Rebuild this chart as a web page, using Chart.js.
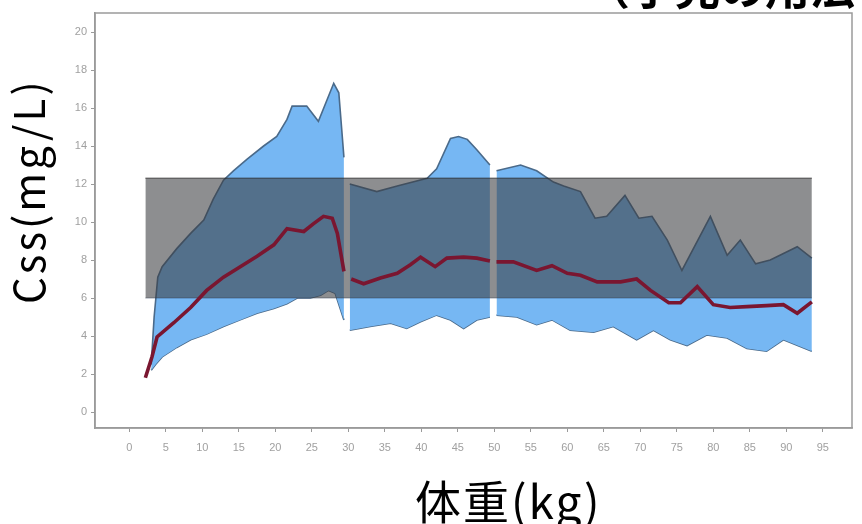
<!DOCTYPE html>
<html>
<head>
<meta charset="utf-8">
<script src="https://cdn.jsdelivr.net/npm/chart.js@4/dist/chart.umd.min.js"></script>
<style>
  html, body { margin: 0; padding: 0; background: #ffffff; }
  #wrap { width: 862px; height: 524px; position: relative; }
</style>
</head>
<body>
<div id="wrap"><canvas id="c" width="862" height="524"></canvas></div>
<script>
// Tick labels
const xTicks = [0, 5, 10, 15, 20, 25, 30, 35, 40, 45, 50, 55, 60, 65, 70, 75, 80, 85, 90, 95];
const yTicks = [0, 2, 4, 6, 8, 10, 12, 14, 16, 18, 20];

// Weight band 1: upper / lower prediction limits and median
const up1X = [3.0, 3.4, 3.9, 4.5, 6.5, 8.4, 10.2, 11.5, 12.9, 14.3, 16.1, 18.4, 20.2, 21.6, 22.3, 24.3, 25.9, 28.0, 28.7, 29.4];
const up1Y = [2.5, 5.0, 7.1, 7.65, 8.6, 9.4, 10.1, 11.2, 12.2, 12.7, 13.3, 14.0, 14.5, 15.4, 16.1, 16.1, 15.3, 17.3, 16.8, 13.4];
const lo1X = [3.0, 3.6, 4.5, 6.5, 8.4, 10.6, 12.9, 15.2, 17.5, 19.8, 21.6, 23.0, 24.8, 26.2, 27.3, 28.2, 29.4];
const lo1Y = [2.2, 2.5, 2.9, 3.4, 3.8, 4.1, 4.5, 4.85, 5.2, 5.45, 5.7, 6.0, 6.0, 6.15, 6.4, 6.25, 4.85];
const med1X = [2.2, 3.1, 3.8, 6.1, 8.4, 10.6, 12.9, 15.2, 17.5, 19.8, 21.6, 23.9, 25.2, 26.6, 27.8, 28.5, 29.4];
const med1Y = [1.8, 2.9, 3.95, 4.7, 5.5, 6.4, 7.1, 7.65, 8.2, 8.8, 9.65, 9.5, 9.9, 10.3, 10.2, 9.4, 7.4];

// Weight band 2
const up2X = [30.2, 33.9, 36.7, 40.8, 42.1, 44.0, 45.1, 46.3, 47.6, 49.4];
const up2Y = [12.0, 11.6, 11.9, 12.3, 12.8, 14.4, 14.5, 14.35, 13.8, 13.0];
const lo2X = [30.2, 33.0, 35.8, 38.0, 39.9, 42.1, 44.0, 45.8, 47.6, 49.4];
const lo2Y = [4.3, 4.5, 4.67, 4.4, 4.75, 5.1, 4.84, 4.4, 4.84, 5.0];
const med2X = [30.4, 32.1, 34.4, 36.7, 38.5, 39.9, 41.9, 43.5, 45.8, 47.6, 49.4];
const med2Y = [7.0, 6.75, 7.05, 7.3, 7.75, 8.15, 7.65, 8.1, 8.15, 8.1, 7.95];

// Weight band 3
const up3X = [50.3, 53.6, 55.8, 58.1, 59.5, 61.8, 63.8, 65.4, 67.9, 69.8, 71.6, 73.7, 75.7, 79.6, 81.9, 83.7, 85.8, 87.8, 91.5, 93.5];
const up3Y = [12.7, 13.0, 12.7, 12.1, 11.9, 11.6, 10.2, 10.3, 11.4, 10.2, 10.3, 9.05, 7.45, 10.3, 8.25, 9.05, 7.8, 8.0, 8.7, 8.1];
const lo3X = [50.3, 53.1, 55.8, 57.9, 60.4, 63.6, 66.3, 69.5, 71.8, 74.1, 76.4, 79.1, 81.9, 84.6, 87.3, 89.6, 93.5];
const lo3Y = [5.1, 5.0, 4.6, 4.85, 4.3, 4.2, 4.5, 3.8, 4.3, 3.8, 3.5, 4.05, 3.9, 3.35, 3.2, 3.8, 3.2];
const med3X = [50.3, 52.6, 55.8, 57.9, 60.0, 61.8, 64.1, 67.3, 69.5, 71.4, 73.9, 75.5, 77.8, 80.0, 82.3, 84.6, 87.3, 89.6, 91.5, 93.5];
const med3Y = [7.9, 7.9, 7.45, 7.7, 7.3, 7.2, 6.85, 6.85, 7.0, 6.4, 5.75, 5.75, 6.6, 5.65, 5.5, 5.55, 5.6, 5.65, 5.2, 5.8];

// Target concentration range
const targetX = [2.2, 93.5];
const targetLow = 6.0;
const targetHigh = 12.3;

const pts = (xs, ys) => xs.map((x, i) => ({ x: x, y: ys[i] }));

const BAND_FILL = 'rgb(118,183,243)';
const BAND_EDGE = 'rgb(74,106,138)';
const MEDIAN = 'rgb(122,22,48)';

function band(up, lo) {
  return [
    { data: up, fill: '+1', backgroundColor: BAND_FILL, borderColor: BAND_EDGE, borderWidth: 1.6, order: 3 },
    { data: lo, fill: false, borderColor: BAND_EDGE, borderWidth: 1.6, order: 3 }
  ];
}

const datasets = [
  ...band(pts(up1X, up1Y), pts(lo1X, lo1Y)),
  ...band(pts(up2X, up2Y), pts(lo2X, lo2Y)),
  ...band(pts(up3X, up3Y), pts(lo3X, lo3Y)),
  {
    data: targetX.map(x => ({ x: x, y: targetHigh })),
    fill: { value: targetLow },
    backgroundColor: 'rgba(58,60,64,0.58)',
    borderColor: 'rgba(40,40,40,0.55)',
    borderWidth: 1.5,
    order: 2
  },
  {
    data: targetX.map(x => ({ x: x, y: targetLow })),
    fill: false,
    borderColor: 'rgba(30,50,80,0.45)',
    borderWidth: 1,
    order: 2
  },
  { data: pts(med1X, med1Y), fill: false, borderColor: MEDIAN, borderWidth: 3.6, order: 1 },
  { data: pts(med2X, med2Y), fill: false, borderColor: MEDIAN, borderWidth: 3.6, order: 1 },
  { data: pts(med3X, med3Y), fill: false, borderColor: MEDIAN, borderWidth: 3.6, order: 1 }
];

// Panel border around the plotting area
const panelFrame = {
  id: 'panelFrame',
  afterDraw(chart) {
    const a = chart.chartArea, c = chart.ctx;
    c.save();
    c.strokeStyle = '#9a9a9a';
    c.lineWidth = 1.5;
    c.strokeRect(a.left, a.top, a.right - a.left, a.bottom - a.top);
    c.restore();
  }
};

// Titles and axis captions
const captions = {
  id: 'captions',
  afterDraw(chart) {
    const c = chart.ctx;
    c.save();
    c.fillStyle = '#000000';
    c.textAlign = 'left';
    c.textBaseline = 'alphabetic';
    c.font = 'bold 45px "Noto Sans CJK JP"';
    c.fillText('（小児の用法・用量）', 585, 5);

    c.font = '46px "Noto Sans CJK JP"';
    c.letterSpacing = '2px';
    c.fillText('体重(kg)', 415, 519);

    c.translate(45, 304);
    c.rotate(-Math.PI / 2);
    c.font = '42px "Noto Sans CJK JP"';
    c.letterSpacing = '3px';
    c.fillText('Css(mg/L)', 0, 0);
    c.restore();
  }
};

const tickFont = { family: '"Liberation Sans", Arial, sans-serif', size: 11 };

new Chart(document.getElementById('c'), {
  type: 'line',
  data: { datasets: datasets },
  options: {
    responsive: false,
    animation: false,
    layout: { padding: { left: 0, right: 10, top: 13, bottom: 0 } },
    plugins: { legend: { display: false }, tooltip: { enabled: false } },
    elements: { point: { radius: 0 }, line: { tension: 0 } },
    scales: {
      x: {
        type: 'linear',
        min: -4.7,
        max: 99,
        afterBuildTicks: s => { s.ticks = xTicks.map(v => ({ value: v })); },
        afterFit: s => { s.height = 96; },
        grid: { drawOnChartArea: false, tickLength: 4, color: '#9a9a9a', tickWidth: 1 },
        border: { color: '#9a9a9a', width: 1.5 },
        ticks: { color: '#a0a0a0', font: tickFont, padding: 9, maxRotation: 0, autoSkip: false }
      },
      y: {
        type: 'linear',
        min: -0.84,
        max: 21,
        afterBuildTicks: s => { s.ticks = yTicks.map(v => ({ value: v })); },
        afterFit: s => { s.width = 95; },
        grid: { drawOnChartArea: false, tickLength: 4, color: '#9a9a9a', tickWidth: 1 },
        border: { color: '#9a9a9a', width: 1.5 },
        ticks: { color: '#a0a0a0', font: tickFont, padding: 4, autoSkip: false }
      }
    }
  },
  plugins: [panelFrame, captions]
});
</script>
</body>
</html>
